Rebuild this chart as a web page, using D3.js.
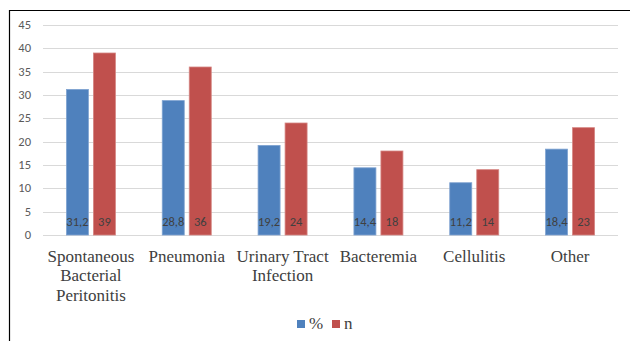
<!DOCTYPE html>
<html><head><meta charset="utf-8">
<script src="https://cdn.jsdelivr.net/npm/d3@7"></script>
<style>body{margin:0;background:#fff}svg{display:block}</style>
</head><body>
<script>
const categories = [["Spontaneous","Bacterial","Peritonitis"],["Pneumonia"],["Urinary Tract","Infection"],["Bacteremia"],["Cellulitis"],["Other"]];
const pctValues = [31.2, 28.8, 19.2, 14.4, 11.2, 18.4];
const pctLabels = ["31,2","28,8","19,2","14,4","11,2","18,4"];
const nValues = [39, 36, 24, 18, 14, 23];
const nLabels = ["39","36","24","18","14","23"];
const seriesNames = ["%", "n"];
const yTicks = [0,5,10,15,20,25,30,35,40,45];

const W = 630, H = 341;
const svg = d3.select("body").append("svg").attr("width", W).attr("height", H);

// frame
svg.append("path").attr("d", `M9.5,${H+2} L9.5,10.5 L${W+2},10.5`).attr("fill","none").attr("stroke","#000").attr("stroke-width",1.2);

const x0 = d3.scaleBand().domain(d3.range(categories.length)).range([43, 618]);
const y = d3.scaleLinear().domain([0, 45]).range([235, 25]);

svg.append("g").selectAll("line").data(yTicks).join("line")
  .attr("x1", 43).attr("x2", 618)
  .attr("y1", d => Math.round(y(d)) + 0.5).attr("y2", d => Math.round(y(d)) + 0.5)
  .attr("stroke", "#d9d9d9").attr("stroke-width", 1);

svg.append("g").selectAll("text").data(yTicks).join("text")
  .attr("style", "font-family:'Carlito';font-size:12.5px")
  .attr("x", 31).attr("y", d => y(d) + 4)
  .attr("text-anchor", "end")
  .attr("fill", "#595959").text(d => d);

const barW = 22, gap = 5;
const colors = ["#4F81BD", "#C0504D"];
const strokes = ["#7FA3D1", "#D58683"];
const series = [pctValues, nValues];
const labels = [pctLabels, nLabels];

series.forEach((vals, s) => {
  const g = svg.append("g");
  g.selectAll("rect").data(vals).join("rect")
    .attr("x", (d, i) => x0(i) + x0.bandwidth()/2 + (s === 0 ? -(barW + gap/2) : gap/2))
    .attr("y", d => y(d))
    .attr("width", barW)
    .attr("height", d => y(0) - y(d))
    .attr("fill", colors[s]).attr("stroke", strokes[s]).attr("stroke-width", 0.8);
  g.selectAll("text").data(vals).join("text")
    .attr("style", "font-family:'Carlito';font-size:12.5px")
    .attr("x", (d, i) => x0(i) + x0.bandwidth()/2 + (s === 0 ? -(barW/2 + gap/2) : (barW/2 + gap/2)))
    .attr("y", 226)
    .attr("text-anchor", "middle")
    .attr("fill", "#404040").text((d, i) => labels[s][i]);
});

// category labels: one text element per line
const catLines = [];
categories.forEach((lines, i) => lines.forEach((ln, k) => catLines.push({i, k, ln})));
svg.append("g").selectAll("text").data(catLines).join("text")
  .attr("style", "font-family:'Liberation Serif';font-size:17px")
  .attr("x", d => x0(d.i) + x0.bandwidth()/2)
  .attr("y", d => 262 + d.k * 19.3)
  .attr("text-anchor", "middle")
  .attr("fill", "#404040")
  .text(d => d.ln);

const legItems = [{x: 297, name: seriesNames[0]}, {x: 332, name: seriesNames[1]}];
const leg = svg.append("g");
leg.selectAll("rect").data(legItems).join("rect")
  .attr("x", d => d.x).attr("y", 320).attr("width", 8).attr("height", 8).attr("fill", (d, s) => colors[s]);
leg.selectAll("text").data(legItems).join("text")
  .attr("style", "font-family:'Liberation Serif';font-size:17px")
  .attr("x", d => d.x + 12).attr("y", 329)
  .attr("fill", "#404040").text(d => d.name);
</script>
</body></html>
